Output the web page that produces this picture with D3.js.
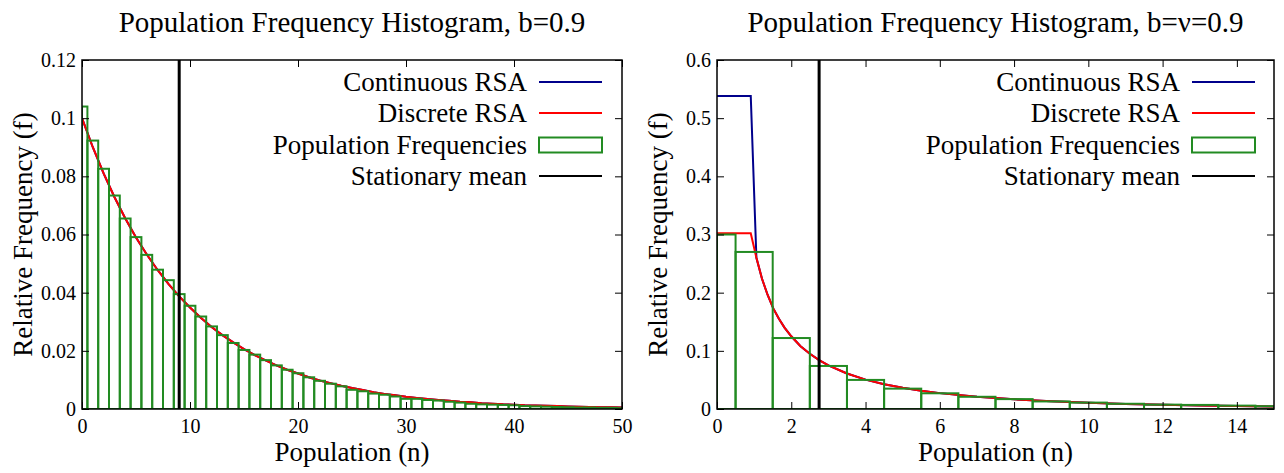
<!DOCTYPE html>
<html>
<head>
<meta charset="utf-8">
<script src="https://cdn.jsdelivr.net/npm/d3@7"></script>
<style>
  html, body { margin: 0; padding: 0; background: #fff; }
  svg { display: block; }
  svg text { font-family: "Liberation Serif", "Times New Roman", serif; }
</style>
</head>
<body>
<svg id="chart" width="1284" height="473"></svg>
<script>
// ---------- Left panel data (b = 0.9) ----------
const leftBins = [0,1,2,3,4,5,6,7,8,9,10,11,12,13,14,15,16,17,18,19,20,21,22,23,24,25,26,27,28,29,30,31,32,33,34,35,36,37,38,39,40,41,42,43,44,45,46,47,48,49,50];
const leftFreq = [0.104,0.0923,0.0826,0.0734,0.0655,0.0591,0.0530,0.0479,0.0443,0.0395,0.0355,0.0318,0.0284,0.0254,0.0227,0.0203,0.0187,0.0168,0.0150,0.0135,0.0123,0.0109,0.0097,0.0087,0.0078,0.0066,0.0061,0.0053,0.0049,0.0043,0.0035,0.0035,0.0031,0.0029,0.0025,0.0022,0.0018,0.0016,0.0015,0.0014,0.0013,0.0010,0.0009,0.0008,0.0007,0.0006,0.0005,0.0005,0.0004,0.0004,0.0003];
const leftCurveX = [0,1,2,3,4,5,6,7,8,9,10,11,12,13,14,15,16,17,18,19,20,21,22,23,24,25,26,27,28,29,30,31,32,33,34,35,36,37,38,39,40,41,42,43,44,45,46,47,48,49,50];
const leftContinuous = [0.1,0.09,0.081,0.0729,0.0656,0.0590,0.0531,0.0478,0.0430,0.0387,0.0349,0.0314,0.0282,0.0254,0.0229,0.0206,0.0185,0.0167,0.0150,0.0135,0.0122,0.0109,0.0098,0.0089,0.0080,0.0072,0.0065,0.0058,0.0052,0.0047,0.0042,0.0038,0.0034,0.0031,0.0028,0.0025,0.0023,0.0020,0.0018,0.0016,0.0015,0.0013,0.0012,0.0011,0.0010,0.0009,0.0008,0.0007,0.0006,0.0006,0.0005];
const leftDiscrete = [0.1,0.09,0.081,0.0729,0.0656,0.0590,0.0531,0.0478,0.0430,0.0387,0.0349,0.0314,0.0282,0.0254,0.0229,0.0206,0.0185,0.0167,0.0150,0.0135,0.0122,0.0109,0.0098,0.0089,0.0080,0.0072,0.0065,0.0058,0.0052,0.0047,0.0042,0.0038,0.0034,0.0031,0.0028,0.0025,0.0023,0.0020,0.0018,0.0016,0.0015,0.0013,0.0012,0.0011,0.0010,0.0009,0.0008,0.0007,0.0006,0.0006,0.0005];
const leftMean = 9;
const leftXTicks = [0,10,20,30,40,50];
const leftYTicks = [0,0.02,0.04,0.06,0.08,0.1,0.12];

// ---------- Right panel data (b = v = 0.9) ----------
const rightBins = [0,1,2,3,4,5,6,7,8,9,10,11,12,13,14,15];
const rightFreq = [0.300,0.270,0.122,0.074,0.050,0.035,0.027,0.021,0.017,0.013,0.011,0.009,0.0075,0.007,0.0058,0.0048];
const rightCurveX = [0,0.909,1.061,1.212,1.364,1.515,1.667,1.818,2,2.25,2.5,2.75,3,3.5,4,4.5,5,5.5,6,7,8,9,10,11,12,13,14,15];
const rightContinuous = [0.538,0.538,0.260,0.224,0.196,0.173,0.155,0.140,0.125,0.108,0.095,0.084,0.075,0.061,0.0505,0.0426,0.0364,0.0314,0.0273,0.0210,0.0166,0.0133,0.0107,0.0088,0.0072,0.0060,0.0050,0.0042];
const rightDiscrete = [0.302,0.302,0.260,0.224,0.196,0.173,0.155,0.140,0.125,0.108,0.095,0.084,0.075,0.061,0.0505,0.0426,0.0364,0.0314,0.0273,0.0210,0.0166,0.0133,0.0107,0.0088,0.0072,0.0060,0.0050,0.0042];
const rightMean = 2.75;
const rightXTicks = [0,2,4,6,8,10,12,14];
const rightYTicks = [0,0.1,0.2,0.3,0.4,0.5,0.6];

const legendLabels = ["Continuous RSA","Discrete RSA","Population Frequencies","Stationary mean"];
const colors = { cont: "#00008b", disc: "#ff0000", hist: "#228b22", mean: "#000000" };
const FONT = "Liberation Serif";

const svg = d3.select("#chart");

function panel(cfg) {
  const { left, right, top, bottom } = cfg.box;
  const x = d3.scaleLinear().domain(cfg.xDomain).range([left, right]);
  const y = d3.scaleLinear().domain(cfg.yDomain).range([bottom, top]);
  const g = svg.append("g");
  const clipId = "clip" + cfg.id;
  svg.append("clipPath").attr("id", clipId).append("rect")
    .attr("x", left).attr("y", top).attr("width", right - left).attr("height", bottom - top);

  const plot = g.append("g").attr("clip-path", `url(#${clipId})`);

  // curves
  const line = (ys) => d3.line().x((d, i) => x(cfg.curveX[i])).y((d) => y(d))(ys);
  plot.append("path").attr("d", line(cfg.cont)).attr("fill", "none")
    .attr("stroke", colors.cont).attr("stroke-width", 2);
  plot.append("path").attr("d", line(cfg.disc)).attr("fill", "none")
    .attr("stroke", colors.disc).attr("stroke-width", 2);

  // histogram bars (centered on integers, width 1)
  plot.selectAll("rect.bar").data(cfg.bins).enter().append("rect")
    .attr("class", "bar")
    .attr("x", (d) => x(Math.max(d - 0.5, cfg.xDomain[0])))
    .attr("width", (d) => x(Math.min(d + 0.5, cfg.xDomain[1])) - x(Math.max(d - 0.5, cfg.xDomain[0])))
    .attr("y", (d, i) => y(cfg.freq[i]))
    .attr("height", (d, i) => y(0) - y(cfg.freq[i]))
    .attr("fill", "none").attr("stroke", colors.hist).attr("stroke-width", 2);

  // stationary mean
  plot.append("line").attr("x1", x(cfg.mean)).attr("x2", x(cfg.mean))
    .attr("y1", top).attr("y2", bottom).attr("stroke", colors.mean).attr("stroke-width", 3);

  // axes (ticks inward, mirrored)
  const tl = 7;
  const axB = d3.axisBottom(x).tickValues(cfg.xTicks).tickSize(-tl).tickPadding(10).tickFormat(d3.format("d"));
  const axT = d3.axisTop(x).tickValues(cfg.xTicks).tickSize(-tl).tickFormat("");
  const axL = d3.axisLeft(y).tickValues(cfg.yTicks).tickSize(-tl).tickPadding(6).tickFormat((d) => d === 0 ? "0" : String(+d.toFixed(2)));
  const axR = d3.axisRight(y).tickValues(cfg.yTicks).tickSize(-tl).tickFormat("");
  const style = (sel) => {
    sel.attr("font-family", FONT).attr("font-size", 20);
    sel.select(".domain").remove();
    sel.selectAll("line").attr("stroke", "#000").attr("stroke-width", 1);
    sel.selectAll("text").attr("font-family", FONT).attr("font-size", 20).attr("fill", "#000");
  };
  g.append("g").attr("transform", `translate(0,${bottom})`).call(axB).call(style);
  g.append("g").attr("transform", `translate(0,${top})`).call(axT).call(style);
  g.append("g").attr("transform", `translate(${left},0)`).call(axL).call(style);
  g.append("g").attr("transform", `translate(${right},0)`).call(axR).call(style);

  // border
  g.append("rect").attr("x", left).attr("y", top).attr("width", right - left).attr("height", bottom - top)
    .attr("fill", "none").attr("stroke", "#000").attr("stroke-width", 1.5);

  // title & labels
  g.append("text").attr("x", (left + right) / 2).attr("y", 32).attr("text-anchor", "middle")
    .attr("font-family", FONT).attr("font-size", 29).text(cfg.title);
  g.append("text").attr("x", (left + right) / 2).attr("y", 461).attr("text-anchor", "middle")
    .attr("font-family", FONT).attr("font-size", 27).text("Population (n)");
  g.append("text").attr("transform", `translate(${left - 50},${(top + bottom) / 2}) rotate(-90)`)
    .attr("text-anchor", "middle").attr("font-family", FONT).attr("font-size", 27).text("Relative Frequency (f)");

  // legend
  const lg = g.append("g");
  const rowY = [82, 113, 145, 176];
  const sx1 = cfg.legendX, sx2 = cfg.legendX + 63;
  legendLabels.forEach((lab, i) => {
    lg.append("text").attr("x", sx1 - 12).attr("y", rowY[i]).attr("dy", "0.35em")
      .attr("text-anchor", "end").attr("font-family", FONT).attr("font-size", 27).text(lab);
  });
  lg.append("line").attr("x1", sx1).attr("x2", sx2).attr("y1", rowY[0]).attr("y2", rowY[0])
    .attr("stroke", colors.cont).attr("stroke-width", 2);
  lg.append("line").attr("x1", sx1).attr("x2", sx2).attr("y1", rowY[1]).attr("y2", rowY[1])
    .attr("stroke", colors.disc).attr("stroke-width", 2);
  lg.append("rect").attr("x", sx1).attr("y", rowY[2] - 7.5).attr("width", sx2 - sx1).attr("height", 15)
    .attr("fill", "none").attr("stroke", colors.hist).attr("stroke-width", 2);
  lg.append("line").attr("x1", sx1).attr("x2", sx2).attr("y1", rowY[3]).attr("y2", rowY[3])
    .attr("stroke", colors.mean).attr("stroke-width", 2);
}

panel({
  id: "L", box: { left: 82, right: 622, top: 60, bottom: 409 },
  xDomain: [0, 50], yDomain: [0, 0.12],
  bins: leftBins, freq: leftFreq, curveX: leftCurveX, cont: leftContinuous, disc: leftDiscrete,
  mean: leftMean, xTicks: leftXTicks, yTicks: leftYTicks,
  title: "Population Frequency Histogram, b=0.9", legendX: 539
});
panel({
  id: "R", box: { left: 717, right: 1274, top: 60, bottom: 409 },
  xDomain: [0, 15], yDomain: [0, 0.6],
  bins: rightBins, freq: rightFreq, curveX: rightCurveX, cont: rightContinuous, disc: rightDiscrete,
  mean: rightMean, xTicks: rightXTicks, yTicks: rightYTicks,
  title: "Population Frequency Histogram, b=ν=0.9", legendX: 1192
});
</script>
</body>
</html>
